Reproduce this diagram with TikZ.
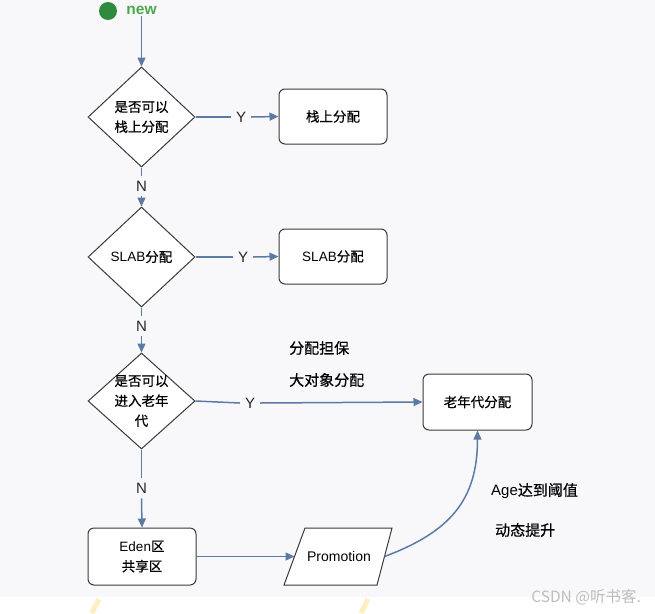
\documentclass[tikz,border=0pt]{standalone}
\usepackage{fontspec}
\setmainfont{Liberation Sans}
\newfontfamily\cjk[FakeBold=0.5]{Noto Sans CJK SC}
\newfontfamily\wmfont{Noto Sans CJK SC}
\usetikzlibrary{shapes.geometric,arrows.meta}
\definecolor{flowblue}{HTML}{5B7BA5}
\definecolor{edgegrey}{HTML}{3A3A3A}
\definecolor{bggrey}{HTML}{F8F8FA}
\definecolor{startgreen}{HTML}{2E8B3E}
\definecolor{newgreen}{HTML}{4CA84C}
\definecolor{wmgrey}{HTML}{BDBDBD}
\definecolor{markyellow}{HTML}{FFEFC0}
\begin{document}
\begin{tikzpicture}[x=1pt,y=-1pt,
  flow/.style={draw=flowblue, line width=1.5pt, -{Triangle[length=9pt,width=8pt]}},
  plain/.style={draw=flowblue, line width=1.5pt},
  decision/.style={diamond, draw=edgegrey, line width=1pt, fill=white, inner sep=0pt, minimum width=107pt, minimum height=100pt},
  boxtext/.style={align=center, inner sep=0pt, font=\cjk\fontsize{13.5}{20}\selectfont},
  stepbox/.style={rectangle, rounded corners=6pt, draw=edgegrey, line width=1pt, fill=white, minimum width=108pt, minimum height=55pt, align=center, font=\cjk\fontsize{13.5}{20}\selectfont},
  yn/.style={font=\fontsize{15}{15}\selectfont, inner sep=5pt, text=black!85},
  note/.style={anchor=west, inner sep=0pt, font=\cjk\fontsize{15}{15}\selectfont},
]
\useasboundingbox (0,0) rectangle (655,613);
\fill[white] (0,0) rectangle (655,613);
\fill[bggrey] (0,0) rectangle (655,597);
\draw[markyellow, line width=5pt] (99,599) -- (92,613);
\draw[markyellow, line width=5pt] (368,599) -- (361,613);

% start
\node[circle, fill=startgreen, minimum size=18pt, inner sep=0pt] (start) at (108,11) {};
\node[text=newgreen, font=\bfseries\fontsize{15.5}{15.5}\selectfont, inner sep=2pt] (new) at (141.5,10) {new};

% decision 1
\node[decision] (d1) at (141.5,117) {};
\node[boxtext] (d1t) at (d1) {是否可以\\栈上分配};
\node[stepbox] (b1) at (333,116.5) {栈上分配};
\node[yn] (y1) at (241,117) {Y};
\draw[flow] (new) -- (d1.north);
\draw[plain] (d1.east) -- (y1.west);
\draw[flow] (y1.east) -- (b1.west);

% decision 2
\node[decision] (d2) at (141.5,257) {};
\node[boxtext, font=\fontsize{13.5}{20}\selectfont] (d2t) at (d2) {SLAB{\cjk 分配}};
\node[stepbox, font=\fontsize{13.5}{20}\selectfont] (b2) at (333,256.5) {SLAB{\cjk 分配}};
\node[yn] (y2) at (243,257) {Y};
\node[yn] (n1) at (141.5,186) {N};
\draw[plain] (d1.south) -- (n1.north);
\draw[flow] (n1.south) -- (d2.north);
\draw[plain] (d2.east) -- (y2.west);
\draw[flow] (y2.east) -- (b2.west);

% decision 3
\node[decision, minimum height=96pt] (d3) at (141.5,401) {};
\node[boxtext] (d3t) at (d3) {是否可以\\进入老年\\代};
\node[stepbox, minimum width=109pt, minimum height=56pt] (b3) at (477.5,402) {老年代分配};
\node[yn] (y3) at (250,403) {Y};
\node[yn] (n2) at (141.5,326) {N};
\draw[plain] (d2.south) -- (n2.north);
\draw[flow] (n2.south) -- (d3.north);
\draw[plain] (d3.east) -- (y3.west);
\draw[flow] (y3.east) -- (b3.west);

\node[note] (t1) at (289,348) {分配担保};
\node[note] (t2) at (289,380) {大对象分配};

% eden
\node[stepbox, minimum height=57pt, font=\fontsize{13.5}{20}\selectfont] (eden) at (142,556.5) {Eden{\cjk 区}\\{\cjk 共享区}};
\node[yn] (n3) at (141.5,488) {N};
\draw[plain] (d3.south) -- (n3.north);
\draw[flow] (n3.south) -- (eden.north);

% promotion
\draw[edgegrey, line width=1pt, fill=white] (305,528) -- (392,528) -- (377,585) -- (284,585) -- cycle;
\node[font=\fontsize{14}{14}\selectfont, inner sep=0pt] (promo) at (339,556.5) {Promotion};
\coordinate (pl) at (294.5,556.5);
\coordinate (pr) at (384.5,556.5);
\draw[flow] (eden.east) -- (pl);
\draw[flow] (pr) .. controls (450,532) and (477.5,500) .. (b3.south);

\node[note, font=\fontsize{15}{15}\selectfont] (t3) at (491,491) {Age{\cjk 达到阈值}};
\node[note] (t4) at (495,530) {动态提升};

\node[anchor=east, inner sep=0pt, text=wmgrey, font=\wmfont\fontsize{15.5}{16}\selectfont] (wm) at (641,597) {CSDN @听书客.};
\end{tikzpicture}
\end{document}
